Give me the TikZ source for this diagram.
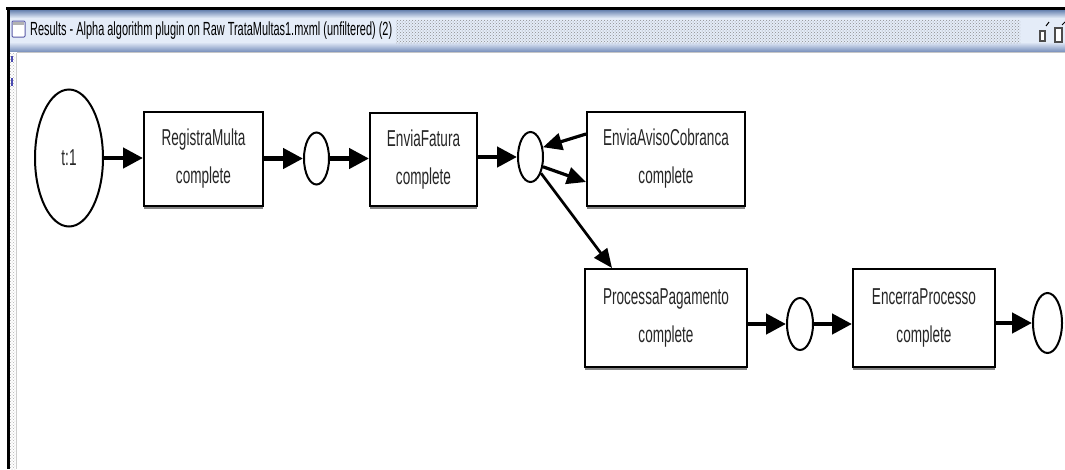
\documentclass[tikz,border=0pt]{standalone}
\usepackage{fontspec}
\setmainfont{Liberation Sans}
\usetikzlibrary{arrows.meta,shadows,patterns,calc,shapes.geometric}
\newcommand\sx[1]{\scalebox{0.59}[1]{#1}}
\definecolor{tbtop}{RGB}{96,124,172}
\definecolor{tblight}{RGB}{228,236,248}
\definecolor{tbbot}{RGB}{128,150,192}
\begin{document}
\begin{tikzpicture}[x=1pt,y=-1pt,
  transbox/.style={draw=black,line width=2pt,fill=white,inner sep=0pt,align=center,
    font=\fontsize{23}{38}\selectfont,text=black!85,
    drop shadow={shadow xshift=0pt,shadow yshift=-2.5pt,fill=black!60,opacity=0.8}},
  place/.style={draw=black,ellipse,line width=2pt,fill=white,inner sep=0pt,
    minimum width=25pt,minimum height=52pt},
  arr/.style={draw=black,line width=4.5pt,-{Triangle[length=20pt,width=20pt]}},
  thinarr/.style={draw=black,line width=3.2pt,-{Triangle[length=19pt,width=17pt]}}
]
\useasboundingbox (0,0) rectangle (1065,469);
\fill[white] (0,0) rectangle (1065,469);
% window chrome
\shade[top color=tbtop,bottom color=tblight] (9.5,9.5) rectangle (1065,18);
\fill[tblight] (9.5,18) rectangle (1065,42);
\shade[top color=tblight,bottom color=tbbot] (9.5,42) rectangle (1065,51);
\fill[black] (6,7) rectangle (1065,9.5);
\fill[black] (7,7) rectangle (9.5,469);
\draw[gray!45] (17,52.5) -- (1065,52.5);
\fill[pattern=crosshatch dots,pattern color=gray!90] (396,20) rectangle (1020,43);
\draw[gray!70!blue,line width=1pt,fill=white,rounded corners=1pt] (12,21) rectangle (25,37);
\fill[gray!60] (13,22) rectangle (24,25);
\node[anchor=west,inner sep=0pt,text=black] (title) at (30,31)
  {\resizebox{362pt}{\height}{\fontsize{19}{19}\selectfont Results - Alpha algorithm plugin on Raw TrataMultas1.mxml (unfiltered) (2)}};
\draw[black!70,line width=1.3pt,fill=white] (1040,31) rectangle (1045,41);
\draw[black,line width=1pt] (1046,26) -- (1049,22);
\draw[black!70,line width=1.5pt,fill=white] (1055,28) rectangle (1062,42);
\draw[black,line width=1pt] (1062,25) -- (1065,22);
\fill[pattern=crosshatch dots,pattern color=gray!60] (10,53) rectangle (15,469);
\draw[gray!40] (16,53) -- (16,469);
\fill[blue!40!gray] (10.5,56) rectangle (12.5,62);
\fill[blue!40!gray] (10.5,78) rectangle (12.5,86);
% nodes
\node[draw=black,ellipse,line width=2pt,inner sep=0pt,minimum width=68pt,minimum height=137pt,
  font=\fontsize{23}{38}\selectfont,text=black!85] (t1) at (69,158) {\sx{t:1}};
\node[transbox,minimum width=119pt,minimum height=94pt] (reg) at (203.5,159) {\sx{RegistraMulta}\\\sx{complete}};
\node[place] (p1) at (316.5,158.5) {};
\node[transbox,minimum width=107pt,minimum height=93pt] (env) at (423.5,159.5) {\sx{EnviaFatura}\\\sx{complete}};
\node[place,minimum height=50pt] (p2) at (530.5,157) {};
\node[transbox,minimum width=158pt,minimum height=94pt] (aviso) at (666,159) {\sx{EnviaAvisoCobranca}\\\sx{complete}};
\node[transbox,minimum width=162pt,minimum height=98pt] (pp) at (666,318) {\sx{ProcessaPagamento}\\\sx{complete}};
\node[place,minimum width=26pt,minimum height=52pt] (p3) at (800,324) {};
\node[transbox,minimum width=142pt,minimum height=98pt] (enc) at (924,318) {\sx{EncerraProcesso}\\\sx{complete}};
\node[place,minimum width=29pt,minimum height=60pt] (p4) at (1047.5,323) {};
% connectors
\draw[arr] (t1.east) -- (t1.east -| reg.west);
\draw[arr] (reg.east |- p1) -- (p1.west);
\draw[arr] (p1.east) -- (p1.east -| env.west);
\draw[arr] (env.east |- p2) -- (p2.west);
\draw[thinarr] ($(aviso.west)+(0,-25)$) -- (p2.38);
\draw[thinarr] (p2.-38) -- ($(aviso.west)+(0,23)$);
\draw[draw=black,line width=2.7pt,-{Triangle[length=19pt,width=16pt]}] (p2.-57) -- ($(pp.north west)+(28,0)$);
\draw[arr] (pp.east |- p3) -- (p3.west);
\draw[arr] (p3.east) -- (p3.east -| enc.west);
\draw[arr] (enc.east |- p4) -- (p4.west);
\end{tikzpicture}
\end{document}
